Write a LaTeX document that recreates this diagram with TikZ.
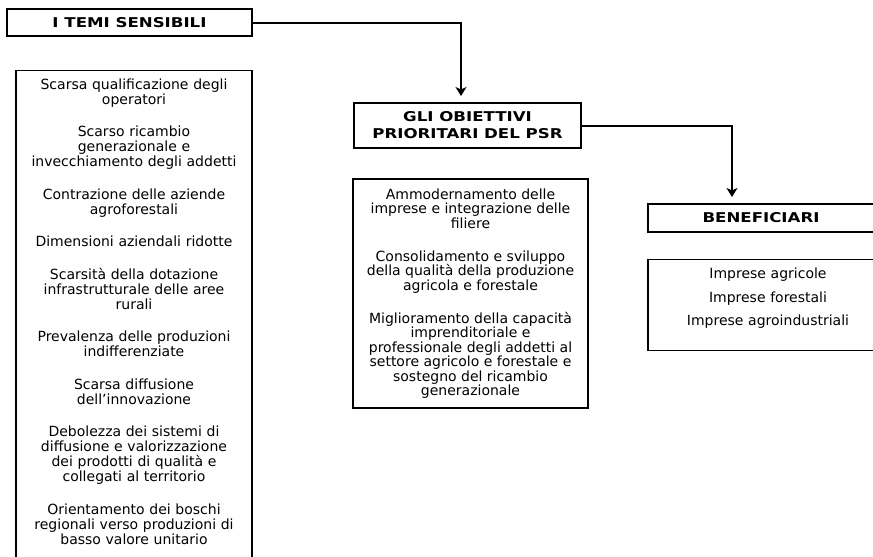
\documentclass[tikz,border=0pt]{standalone}
\usepackage{fontspec}
\setmainfont{DejaVu Sans}
\newfontfamily\headfont{DejaVu Sans}[FakeStretch=1.23]
\usepackage{tikz}
\usetikzlibrary{arrows.meta}

\begin{document}
\begin{tikzpicture}[
			x=1pt, y=-1pt,
			every node/.style={draw, line width=1.2pt, inner sep=4pt, align=center},
			title/.style={font=\headfont\bfseries\fontsize{13.5}{17}\selectfont},
			listbox/.style={font=\fontsize{14}{15}\selectfont},
			link/.style={-{Stealth[length=9pt, width=11pt, inset=2.5pt]}, line width=2pt}
		]
		\useasboundingbox (0,0) rectangle (873,557);
		\clip (0,0) rectangle (873,557);

		% --- Temi sensibili on the left ---
		\node[title, minimum width=245pt, minimum height=27pt] (temi) at (129.5,22.5) {I TEMI SENSIBILI};
		\node[listbox, anchor=north, text width=228pt, inner ysep=8pt, text depth=470pt] (temiList) at (134,70) {%
			Scarsa qualificazione degli\\operatori\\[17.5pt]
			Scarso ricambio\\generazionale e\\invecchiamento degli addetti\\[17.5pt]
			Contrazione delle aziende\\agroforestali\\[17.5pt]
			Dimensioni aziendali ridotte\\[17.5pt]
			Scarsità della dotazione\\infrastrutturale delle aree\\rurali\\[17.5pt]
			Prevalenza delle produzioni\\indifferenziate\\[17.5pt]
			Scarsa diffusione\\dell’innovazione\\[17.5pt]
			Debolezza dei sistemi di\\diffusione e valorizzazione\\dei prodotti di qualità e\\collegati al territorio\\[17.5pt]
			Orientamento dei boschi\\regionali verso produzioni di\\basso valore unitario};

		% --- Obiettivi in the middle ---
		\node[title, minimum width=227pt, minimum height=45pt] (obiettivi) at (467.5,125.5) {GLI OBIETTIVI\\PRIORITARI DEL PSR};
		\node[listbox, font=\fontsize{14}{14.5}\selectfont, minimum width=235pt, minimum height=229pt] (obiettiviList) at (470.5,293.5) {%
			Ammodernamento delle\\imprese e integrazione delle\\filiere\\[18.5pt]
			Consolidamento e sviluppo\\della qualità della produzione\\agricola e forestale\\[18.5pt]
			Miglioramento della capacità\\imprenditoriale e\\professionale degli addetti al\\settore agricolo e forestale e\\sostegno del ricambio\\generazionale};

		% --- Beneficiari on the right ---
		\node[title, minimum width=226pt, minimum height=28pt] (benef) at (761,218) {BENEFICIARI};
		\node[listbox, font=\fontsize{14}{14.5}\selectfont, anchor=north, text width=232pt, inner ysep=8pt, text height=11pt, text depth=64pt] (benefList) at (768,259) {%
			Imprese agricole\\[9pt]
			Imprese forestali\\[9pt]
			Imprese agroindustriali};

		% --- Arrows ---
		\coordinate (tip1) at (461,96);
		\coordinate (tip2) at (732,197);
		\draw[link] (temi.east) -| (tip1);
		\draw[link] (obiettivi.east) -| (tip2);

	\end{tikzpicture}
\end{document}
